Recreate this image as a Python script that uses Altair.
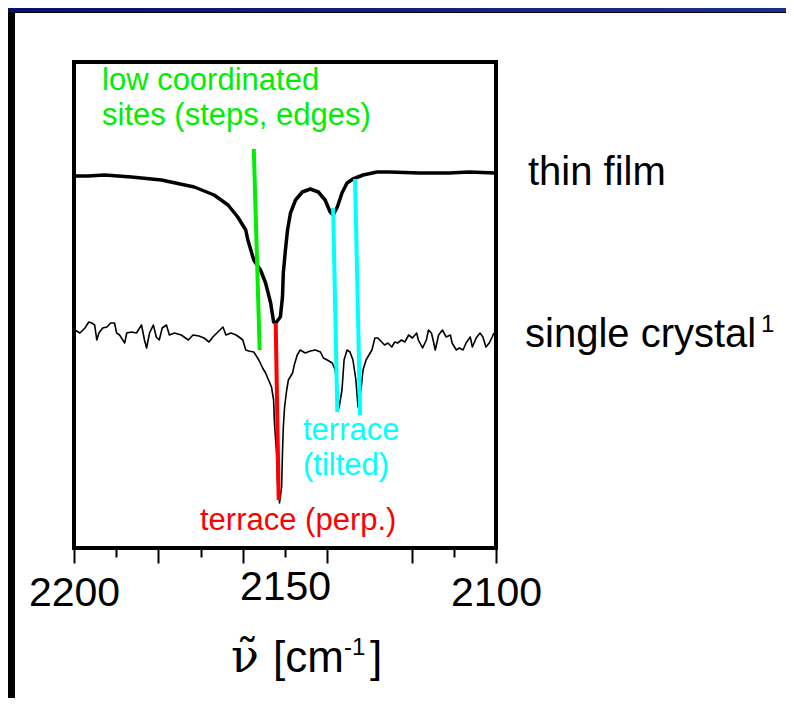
import altair as alt
import pandas as pd

# ---- data (x: wavenumber cm-1, y: signal in arbitrary units) ----
film_wn = [2199.8, 2196.7, 2192.7, 2186.4, 2179.3, 2171.5, 2166.8, 2163.5, 2161.2, 2159.3,
           2158.8, 2157.4, 2155.8, 2154.6, 2153.4, 2152.7, 2152.2, 2151.1, 2150.6, 2150.4,
           2149.9, 2149.4, 2148.7, 2147.5, 2145.9, 2144.0, 2142.1, 2140.5, 2139.3, 2138.6,
           2137.6, 2136.5, 2135.3, 2133.9, 2131.5, 2128.2, 2125.2, 2118.1, 2111.1, 2106.4,
           2100.2]
film_v = [374, 374, 375, 373, 370, 363, 355, 345, 333, 320,
          310, 290, 280, 267, 247, 228, 227, 233, 253, 277,
          300, 320, 337, 350, 358, 361, 358, 350, 338, 335,
          343, 357, 367, 371, 375, 378, 378, 377, 377, 378,
          377]

crystal_wn = [2199.8, 2198.6, 2197.4, 2196.5, 2195.8, 2195.1, 2194.6, 2194.1, 2193.2, 2192.2,
              2191.3, 2190.4, 2189.9, 2189.2, 2188.0, 2187.5, 2186.4, 2185.2, 2184.0, 2183.3,
              2182.8, 2182.1, 2181.2, 2180.5, 2179.8, 2179.1, 2178.1, 2177.4, 2176.2, 2174.6,
              2172.9, 2171.8, 2170.4, 2169.2, 2168.0, 2167.1, 2165.9, 2164.7, 2164.0, 2162.8,
              2161.6, 2160.9, 2160.0, 2159.3, 2158.6, 2157.4, 2156.2, 2155.3, 2154.6, 2153.9,
              2153.2, 2152.7, 2152.5, 2152.0, 2151.8, 2151.3, 2150.8, 2150.6, 2150.4, 2150.1,
              2149.6, 2149.2, 2148.2, 2147.8, 2147.1, 2146.4, 2145.2, 2144.0, 2142.8, 2141.6,
              2140.9, 2140.0, 2138.8, 2138.1, 2137.6, 2137.2, 2136.5, 2136.0, 2135.3, 2134.6,
              2133.9, 2133.2, 2132.7, 2132.0, 2131.5, 2130.8, 2129.4, 2128.7, 2128.0, 2127.1,
              2126.4, 2125.6, 2124.7, 2124.0, 2123.3, 2122.4, 2121.6, 2120.7, 2119.8, 2118.8,
              2118.4, 2117.4, 2116.5, 2116.0, 2115.3, 2114.8, 2114.4, 2113.6, 2112.7, 2111.8,
              2110.8, 2110.4, 2109.4, 2108.7, 2107.8, 2107.1, 2106.1, 2105.6, 2104.7, 2103.8,
              2103.1, 2102.4, 2101.6, 2100.9, 2100.5]
crystal_v = [220, 217, 222, 228, 227, 225, 210, 217, 222, 223,
             227, 227, 217, 215, 207, 217, 218, 217, 225, 210,
             202, 217, 225, 213, 210, 222, 225, 215, 217, 215,
             210, 215, 214, 212, 208, 213, 218, 223, 215, 217,
             215, 213, 210, 200, 199, 198, 190, 182, 177, 170,
             163, 150, 127, 97, 70, 47, 63, 97, 123, 143,
             160, 170, 177, 185, 195, 200, 197, 199, 200, 198,
             192, 190, 187, 180, 160, 142, 160, 190, 200, 198,
             190, 170, 143, 160, 180, 190, 200, 212, 212, 208,
             205, 207, 203, 208, 207, 210, 208, 215, 212, 217,
             210, 202, 210, 220, 217, 208, 200, 215, 220, 213,
             215, 207, 200, 202, 200, 207, 213, 203, 212, 217,
             213, 203, 207, 213, 217]

# peak-assignment marker lines
marker_x1 = [2157.4, 2152.2, 2138.6, 2133.4]
marker_v1 = [401, 227, 342, 371]
marker_x2 = [2156.0, 2151.5, 2137.6, 2132.2]
marker_v2 = [200, 50, 138, 135]
marker_kind = ["low coordinated", "terrace (perp.)", "terrace (tilted)", "terrace (tilted)"]

tick_values = [2200, 2190, 2180, 2170, 2160, 2150, 2140, 2120, 2110, 2100]

GREEN = "#00ee00"
CYAN = "#00ffff"
RED = "#ff0000"
marker_colors = [GREEN, RED, CYAN, CYAN]

FONT = "Liberation Sans"

film = pd.DataFrame({"wn": film_wn, "v": film_v})
crystal = pd.DataFrame({"wn": crystal_wn, "v": crystal_v})
markers = pd.DataFrame({"x1": marker_x1, "y1": marker_v1, "x2": marker_x2, "y2": marker_v2,
                        "kind": marker_kind, "c": marker_colors})
one = pd.DataFrame({"k": [0]})

xscale = alt.Scale(domain=[2200, 2100], nice=False, zero=False)
yscale = alt.Scale(domain=[2, 488], nice=False, zero=False)

x_axis = alt.Axis(
    values=tick_values, format="d", domain=False, grid=False,
    tickColor="black", tickWidth=2,
    tickSize={"condition": {"test": "datum.value % 20 === 0", "value": 15}, "value": 9},
    labelExpr="datum.value % 50 === 0 ? datum.label : ''",
    labelFont=FONT, labelFontSize=41, labelColor="black",
    labelBaseline="alphabetic", labelPadding=42, labelOverlap=False, labelFlush=False,
    title=None,
)

film_line = alt.Chart(film).mark_line(color="black", strokeWidth=3.5, strokeCap="round",
                                      strokeJoin="round").encode(
    x=alt.X("wn:Q", scale=xscale, axis=x_axis),
    y=alt.Y("v:Q", scale=yscale, axis=None),
)
crystal_line = alt.Chart(crystal).mark_line(color="black", strokeWidth=1.6,
                                            strokeJoin="round").encode(
    x=alt.X("wn:Q", scale=xscale),
    y=alt.Y("v:Q", scale=yscale),
)
marker_rules = alt.Chart(markers).mark_rule(strokeWidth=4).encode(
    x=alt.X("x1:Q", scale=xscale), x2="x2:Q",
    y=alt.Y("y1:Q", scale=yscale), y2="y2:Q",
    color=alt.Color("c:N", scale=None),
)


def label(text, x, y, color="black", size=32, font=FONT, align="left"):
    return alt.Chart(one).mark_text(
        text=text, font=font, fontSize=size, color=color, align=align,
        baseline="alphabetic",
    ).encode(x=alt.value(x), y=alt.value(y))


texts = [
    label("low coordinated", 28, 28, GREEN, 31),
    label("sites (steps, edges)", 28, 63, GREEN, 31),
    label("terrace", 229, 378, CYAN, 31),
    label("(tilted)", 229, 413, CYAN, 31),
    label("terrace (perp.)", 126, 468, RED, 31),
    label("thin film", 454, 123, "black", 40),
    label("single crystal", 451, 285, "black", 40),
    label("1", 687, 270, "black", 24),
    # axis title  nu-tilde [cm-1]
    label("ν\u0303", 171, 610, "black", 46, "DejaVu Serif", "center"),
    label("[cm", 199, 610, "black", 44),
    label("-1", 270, 593, "black", 24),
    label("]", 296, 610, "black", 44),
]

# slide frame (navy band on top, black edge on the left)
top_band = alt.Chart(one).mark_rect(
    fill=alt.Gradient(gradient="linear", x1=0, x2=1, y1=0, y2=0,
                      stops=[alt.GradientStop(color="#0b1070", offset=0),
                             alt.GradientStop(color="#1c2f8e", offset=1)])
).encode(x=alt.value(-66), x2=alt.value(712), y=alt.value(-54), y2=alt.value(-50))
top_edge = alt.Chart(one).mark_rect(color="black").encode(
    x=alt.value(-66), x2=alt.value(712), y=alt.value(-50), y2=alt.value(-49))
left_edge = alt.Chart(one).mark_rect(color="black").encode(
    x=alt.value(-66), x2=alt.value(-59), y=alt.value(-50), y2=alt.value(636))

chart = alt.layer(
    film_line, crystal_line, marker_rules, *texts, top_band, top_edge, left_edge
).properties(
    width=422, height=486,
    autosize=alt.AutoSizeParams(type="none"),
    padding={"left": 66, "top": 54, "right": 290, "bottom": 150},
    background="white",
).configure_view(
    stroke="black", strokeWidth=4,
)

chart.save("out.html", embed_options={"renderer": "svg", "actions": False})
